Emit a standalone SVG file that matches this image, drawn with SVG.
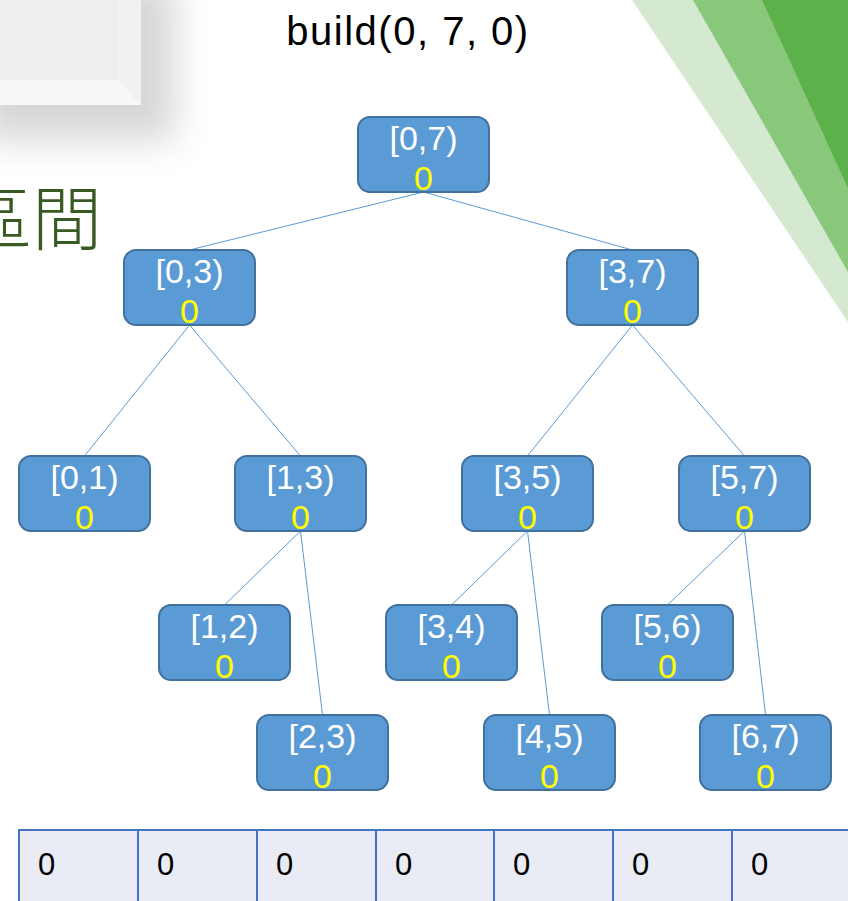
<svg xmlns="http://www.w3.org/2000/svg" width="848" height="901" viewBox="0 0 848 901">
  <defs>
    <filter id="blur" x="-50%" y="-50%" width="200%" height="200%">
      <feGaussianBlur stdDeviation="18"/>
    </filter>
  </defs>
  <style>
    .node rect { fill: #5B9BD5; stroke: #41719C; stroke-width: 2; }
    .lbl { font-family: "Liberation Sans", Arial, sans-serif; font-size: 34px; fill: #FFFFFF; text-anchor: middle; }
    .val { font-family: "Liberation Sans", Arial, sans-serif; font-size: 34px; fill: #FFFF00; text-anchor: middle; }
    .edge line { stroke: #5B9BD5; stroke-width: 1; }
    .cell { fill: #E9EBF5; stroke: #4472C4; stroke-width: 2; }
    .cellt { font-family: "Liberation Sans", Arial, sans-serif; font-size: 31px; fill: #000000; }
  </style>
  <rect width="848" height="901" fill="#FFFFFF"/>

  <!-- decorative background -->
  <g id="decor">
    <rect x="-20" y="-20" width="195" height="160" fill="#D6D6D6" filter="url(#blur)"/>
    <rect x="0" y="0" width="141" height="105" fill="#EEEEEE"/>
    <polygon points="118,0 141,0 141,105 118,80" fill="#F1F1F1"/>
    <polygon points="0,80 118,80 141,105 0,105" fill="#F8F8F8"/>
    <polygon points="632,0 848,0 848,322" fill="#D4E9CF"/>
    <polygon points="693,0 848,0 848,272" fill="#89C77A"/>
    <polygon points="762,0 848,0 848,188" fill="#5DB14A"/>
    <text x="-38" y="245" font-family="'Noto Sans CJK TC', 'Noto Sans CJK SC', sans-serif" font-size="70" font-weight="300" fill="#3A5A23">區間</text>
  </g>

  <text id="title" x="408" y="45" font-family="'Liberation Sans', Arial, sans-serif" font-size="40" letter-spacing="1.5" fill="#000000" text-anchor="middle">build(0, 7, 0)</text>

  <g id="connectors" class="edge">
    <line x1="423.5" y1="192" x2="189.5" y2="250"/>
    <line x1="423.5" y1="192" x2="632.5" y2="250"/>
    <line x1="189.5" y1="325" x2="84.5" y2="456"/>
    <line x1="189.5" y1="325" x2="300.5" y2="456"/>
    <line x1="632.5" y1="325" x2="527.5" y2="456"/>
    <line x1="632.5" y1="325" x2="744.5" y2="456"/>
    <line x1="300.5" y1="531" x2="224.5" y2="605"/>
    <line x1="300.5" y1="531" x2="322.5" y2="715"/>
    <line x1="527.5" y1="531" x2="451.5" y2="605"/>
    <line x1="527.5" y1="531" x2="549.5" y2="715"/>
    <line x1="744.5" y1="531" x2="667.5" y2="605"/>
    <line x1="744.5" y1="531" x2="765.5" y2="715"/>
  </g>

  <g id="n07" class="node"><rect x="358" y="117" width="131" height="75" rx="12"/><text class="lbl" x="423.5" y="150">[0,7)</text><text class="val" x="423.5" y="190">0</text></g>
  <g id="n03" class="node"><rect x="124" y="250" width="131" height="75" rx="12"/><text class="lbl" x="189.5" y="283">[0,3)</text><text class="val" x="189.5" y="323">0</text></g>
  <g id="n37" class="node"><rect x="567" y="250" width="131" height="75" rx="12"/><text class="lbl" x="632.5" y="283">[3,7)</text><text class="val" x="632.5" y="323">0</text></g>
  <g id="n01" class="node"><rect x="19" y="456" width="131" height="75" rx="12"/><text class="lbl" x="84.5" y="489">[0,1)</text><text class="val" x="84.5" y="529">0</text></g>
  <g id="n13" class="node"><rect x="235" y="456" width="131" height="75" rx="12"/><text class="lbl" x="300.5" y="489">[1,3)</text><text class="val" x="300.5" y="529">0</text></g>
  <g id="n35" class="node"><rect x="462" y="456" width="131" height="75" rx="12"/><text class="lbl" x="527.5" y="489">[3,5)</text><text class="val" x="527.5" y="529">0</text></g>
  <g id="n57" class="node"><rect x="679" y="456" width="131" height="75" rx="12"/><text class="lbl" x="744.5" y="489">[5,7)</text><text class="val" x="744.5" y="529">0</text></g>
  <g id="n12" class="node"><rect x="159" y="605" width="131" height="75" rx="12"/><text class="lbl" x="224.5" y="638">[1,2)</text><text class="val" x="224.5" y="678">0</text></g>
  <g id="n34" class="node"><rect x="386" y="605" width="131" height="75" rx="12"/><text class="lbl" x="451.5" y="638">[3,4)</text><text class="val" x="451.5" y="678">0</text></g>
  <g id="n56" class="node"><rect x="602" y="605" width="131" height="75" rx="12"/><text class="lbl" x="667.5" y="638">[5,6)</text><text class="val" x="667.5" y="678">0</text></g>
  <g id="n23" class="node"><rect x="257" y="715" width="131" height="75" rx="12"/><text class="lbl" x="322.5" y="748">[2,3)</text><text class="val" x="322.5" y="788">0</text></g>
  <g id="n45" class="node"><rect x="484" y="715" width="131" height="75" rx="12"/><text class="lbl" x="549.5" y="748">[4,5)</text><text class="val" x="549.5" y="788">0</text></g>
  <g id="n67" class="node"><rect x="700" y="715" width="131" height="75" rx="12"/><text class="lbl" x="765.5" y="748">[6,7)</text><text class="val" x="765.5" y="788">0</text></g>

  <g id="table">
    <rect class="cell" x="19" y="830" width="119" height="90"/>
    <rect class="cell" x="138" y="830" width="119" height="90"/>
    <rect class="cell" x="257" y="830" width="119" height="90"/>
    <rect class="cell" x="376" y="830" width="118" height="90"/>
    <rect class="cell" x="494" y="830" width="119" height="90"/>
    <rect class="cell" x="613" y="830" width="119" height="90"/>
    <rect class="cell" x="732" y="830" width="119" height="90"/>
    <text class="cellt" x="38" y="875">0</text>
    <text class="cellt" x="157" y="875">0</text>
    <text class="cellt" x="276" y="875">0</text>
    <text class="cellt" x="395" y="875">0</text>
    <text class="cellt" x="513" y="875">0</text>
    <text class="cellt" x="632" y="875">0</text>
    <text class="cellt" x="751" y="875">0</text>
  </g>
</svg>
